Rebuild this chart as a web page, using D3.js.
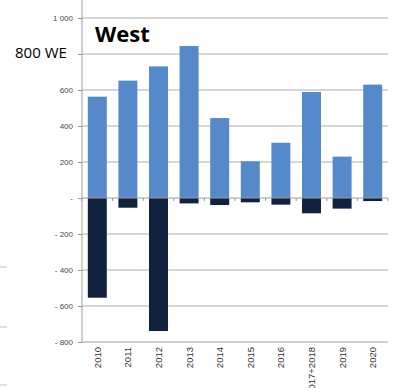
<!DOCTYPE html>
<html>
<head>
<meta charset="utf-8">
<script src="https://cdn.jsdelivr.net/npm/d3@7"></script>
<style>
  html, body { margin: 0; padding: 0; background: #fff; }
  svg { display: block; }
</style>
</head>
<body>
<svg id="chart" width="395" height="388"></svg>
<script>
// Yearly balance for the West region: gains above zero, losses below
const categories = ["2010", "2011", "2012", "2013", "2014", "2015", "2016", "2017+2018", "2019", "2020"];
const gains  = [563, 652, 731, 844, 444, 204, 307, 589, 230, 630];
const losses = [-554, -54, -739, -30, -39, -24, -37, -85, -59, -17];
const yTicks = [1000, 800, 600, 400, 200, 0, -200, -400, -600, -800];
const yTickLabels = ["1 000", "", "600", "400", "200", "-", "- 200", "- 400", "- 600", "- 800"];

const svg = d3.select("#chart");

const x = d3.scaleBand()
  .domain(categories)
  .range([82, 388])
  .paddingInner(0.38)
  .paddingOuter(0.19);

const y = d3.scaleLinear()
  .domain([-800, 1000])
  .range([342, 18]);

// short gridline stubs along the far left edge
const stubY = [267, 327, 385];
svg.selectAll("line.stub").data(stubY).join("line")
  .attr("class", "stub")
  .attr("x1", 0).attr("x2", 7)
  .attr("y1", d => d).attr("y2", d => d)
  .attr("stroke", "#d6d6d6").attr("stroke-width", 1.5);

// horizontal gridlines
svg.append("g")
  .selectAll("line")
  .data(yTicks.filter(v => v !== 0 && v !== -800))
  .join("line")
  .attr("x1", 82).attr("x2", 388)
  .attr("y1", d => y(d)).attr("y2", d => y(d))
  .attr("stroke", "#c8c8c8").attr("stroke-width", 1.5);

// bars above zero
svg.append("g")
  .selectAll("rect")
  .data(categories.map((c, i) => ({ c, v: gains[i] })))
  .join("rect")
  .attr("x", d => x(d.c))
  .attr("width", x.bandwidth())
  .attr("y", d => y(d.v))
  .attr("height", d => y(0) - y(d.v))
  .attr("fill", "#5589c9");

// bars below zero
svg.append("g")
  .selectAll("rect")
  .data(categories.map((c, i) => ({ c, v: losses[i] })))
  .join("rect")
  .attr("x", d => x(d.c))
  .attr("width", x.bandwidth())
  .attr("y", y(0))
  .attr("height", d => y(d.v) - y(0))
  .attr("fill", "#11223f");

// zero line with category separators
svg.append("line")
  .attr("x1", 82).attr("x2", 388)
  .attr("y1", y(0)).attr("y2", y(0))
  .attr("stroke", "#9a9a9a").attr("stroke-width", 1);
const bounds = categories.map(c => x(c) - x.step() * x.paddingInner() / 2).concat([388]);
svg.append("g")
  .selectAll("line")
  .data(bounds)
  .join("line")
  .attr("x1", d => d).attr("x2", d => d)
  .attr("y1", y(0)).attr("y2", y(0) + 3)
  .attr("stroke", "#9a9a9a").attr("stroke-width", 1);

// bottom axis line
svg.append("line")
  .attr("x1", 82).attr("x2", 388)
  .attr("y1", y(-800)).attr("y2", y(-800))
  .attr("stroke", "#a0a0a0").attr("stroke-width", 1);

// vertical axis
const yAxis = d3.axisLeft(y)
  .tickValues(yTicks)
  .tickSize(4)
  .tickPadding(5)
  .tickFormat((d, i) => yTickLabels[i]);
const gy = svg.append("g")
  .attr("transform", "translate(82,0)")
  .call(yAxis);
gy.select(".domain").remove();
gy.selectAll(".tick line").attr("stroke", "#9a9a9a");
gy.selectAll(".tick text")
  .attr("fill", "#4a4a4a")
  .style("font-family", "'Liberation Sans', Arial, sans-serif")
  .style("font-size", "8px");
svg.append("line")
  .attr("x1", 82).attr("x2", 82)
  .attr("y1", 0).attr("y2", y(-800))
  .attr("stroke", "#a0a0a0").attr("stroke-width", 1);

// rotated category labels
svg.append("g")
  .selectAll("text")
  .data(categories)
  .join("text")
  .attr("transform", d => `translate(${x(d) + x.bandwidth() / 2 + 3.5},347) rotate(-90)`)
  .attr("text-anchor", "end")
  .attr("fill", "#333")
  .style("font-family", "'Liberation Sans', Arial, sans-serif")
  .style("font-size", "9.5px")
  .text(d => d);

// titles
svg.append("text")
  .attr("x", 95).attr("y", 42)
  .attr("fill", "#000")
  .style("font-family", "'Open Sans', 'Noto Sans', sans-serif")
  .style("font-weight", "bold")
  .style("font-size", "22px")
  .text("West");

svg.append("text")
  .attr("x", 15).attr("y", 58)
  .attr("fill", "#000")
  .style("font-family", "'Open Sans', 'Noto Sans', sans-serif")
  .style("font-size", "15px")
  .text("800 WE");
</script>
</body>
</html>
